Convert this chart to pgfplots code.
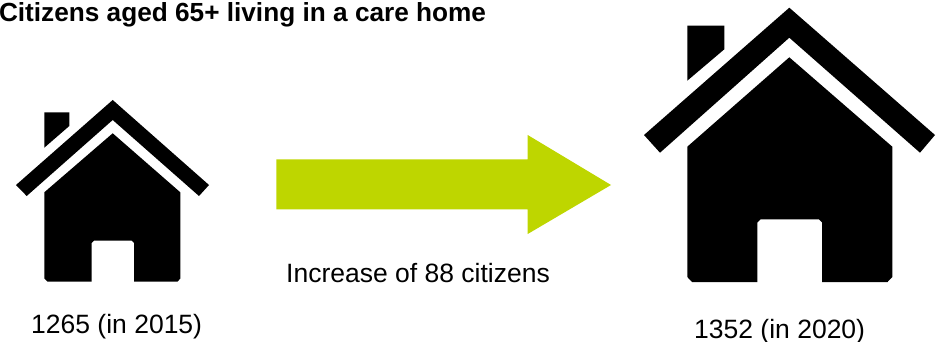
\documentclass[border=0pt]{standalone}
\usepackage{pgfplots}
\pgfplotsset{compat=1.18}
\usepackage{fontspec}
\setmainfont{Liberation Sans}
\definecolor{arrowgreen}{HTML}{BED600}
\pgfplotsset{solid shape/.style={draw=none, fill=#1, no markers, line width=0pt, forget plot}}
\begin{document}
\begin{tikzpicture}
\clip (0,0) rectangle (937pt,342pt);
\begin{axis}[
  at={(0,0)}, anchor=south west,
  scale only axis, width=937pt, height=342pt,
  xmin=0, xmax=937, ymin=0, ymax=342, y dir=reverse,
  hide axis, clip=false,
]
% small house (2015)
\addplot[solid shape=black] coordinates {(44.3,112.3)(69.3,112.3)(69.3,126)(44.3,147.7)} -- cycle;
\addplot[solid shape=black] coordinates {(112.7,100)(209,185)(199,196)(112.7,120)(26.7,196)(16,185)} -- cycle;
\addplot[solid shape=black] coordinates {(112.7,133.3)(180.3,192.3)(180.3,278.5)(177.5,281.7)(134,281.7)(134,243)(131.8,240.7)(93.8,240.7)(91.7,243)(91.7,281.7)(47.5,281.7)(44.3,278.5)(44.3,192.3)} -- cycle;
% large house (2020)
\addplot[solid shape=black] coordinates {(687.3,25.7)(724.3,25.7)(724.3,49.3)(687.3,80.7)} -- cycle;
\addplot[solid shape=black] coordinates {(789.3,7.7)(935,135)(920,152.7)(789.3,37.7)(660,152.7)(644,135)} -- cycle;
\addplot[solid shape=black] coordinates {(789.3,57.3)(892.3,146.7)(892.3,277)(887.5,282)(822,282)(822,222.5)(818.8,219.3)(760.5,219.3)(757.3,222.5)(757.3,282)(692,282)(687.3,277)(687.3,146.7)} -- cycle;
% arrow between the two houses
\addplot[solid shape=arrowgreen] coordinates {(276.3,159.3)(527.7,159.3)(527.7,135)(611,185)(527.7,234)(527.7,209.3)(276.3,209.3)} -- cycle;
% texts
\node[anchor=base west, inner sep=0pt, font=\fontsize{26.2}{30}\selectfont\bfseries] at (axis cs:-1.2,22) {Citizens aged 65+ living in a care home};
\node[anchor=base west, inner sep=0pt, font=\fontsize{26.5}{30}\selectfont] at (axis cs:286,282) {Increase of 88 citizens};
\node[anchor=base west, inner sep=0pt, font=\fontsize{26.5}{30}\selectfont] at (axis cs:31,333) {1265 (in 2015)};
\node[anchor=base west, inner sep=0pt, font=\fontsize{26.5}{30}\selectfont] at (axis cs:694,338) {1352 (in 2020)};
\end{axis}
\end{tikzpicture}
\end{document}
